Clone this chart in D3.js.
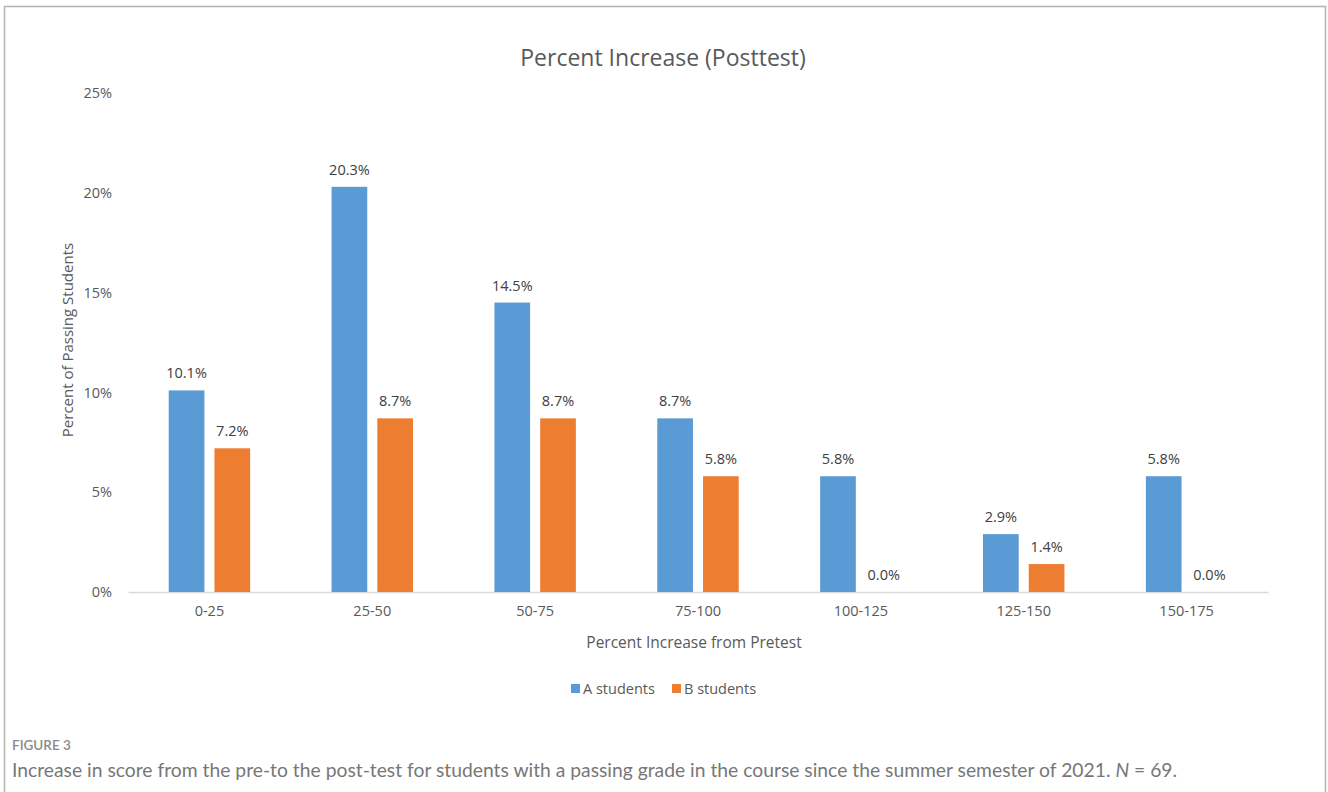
<!DOCTYPE html>
<html><head><meta charset="utf-8">
<script src="https://cdn.jsdelivr.net/npm/d3@7"></script>
<style>
body{margin:0;background:#fff;}
svg{display:block;}
</style></head>
<body>
<svg id="c" width="1328" height="792"></svg>
<script>
const categories = ["0-25","25-50","50-75","75-100","100-125","125-150","150-175"];
const seriesNames = ["A students","B students"];
const aStudents = [10.1,20.3,14.5,8.7,5.8,2.9,5.8];
const bStudents = [7.2,8.7,8.7,5.8,0.0,1.4,0.0];
const yTicks = [0,5,10,15,20,25];
const colors = ["#5B9BD5","#ED7D31"];

(function(){
const svg = d3.select("#c");
const font = "'Open Sans', 'Noto Sans', sans-serif";

// frame
svg.append("rect").attr("x",4.5).attr("y",6.5).attr("width",1321).attr("height",800)
  .attr("fill","none").attr("stroke","#b3b3b3").attr("stroke-width",1.5);

const pLeft = 128, pRight = 1268, pTop = 93, pBottom = 592;
const x = d3.scaleBand().domain(categories).range([pLeft,pRight]).paddingInner(0.5).paddingOuter(0.25);
const xs = d3.scaleBand().domain(seriesNames).range([0,x.bandwidth()]).paddingInner(0.22);
const y = d3.scaleLinear().domain([0,25]).range([pBottom,pTop]);

// title
svg.append("text").attr("x",663).attr("y",66).attr("text-anchor","middle")
  .attr("font-family",font).attr("font-size",23).attr("fill","#595959").text("Percent Increase (Posttest)");

// y axis
const yAxis = d3.axisLeft(y).tickValues(yTicks).tickFormat(d=>d+"%").tickSize(0).tickPadding(16);
const gy = svg.append("g").attr("transform",`translate(${pLeft},0)`).call(yAxis);
gy.select(".domain").remove();
gy.selectAll("text").attr("font-family",font).attr("font-size",14.5).attr("fill","#595959").attr("x",-16);

// x axis
const xAxis = d3.axisBottom(x).tickSize(0).tickPadding(14);
const gx = svg.append("g").attr("transform",`translate(0,${pBottom})`).call(xAxis);
gx.select(".domain").attr("stroke","#d9d9d9").attr("stroke-width",1.5);
gx.selectAll("text").attr("font-family",font).attr("font-size",14.5).attr("fill","#595959");

// bars
const data = categories.map((c,i)=>({c, vals:[aStudents[i], bStudents[i]]}));
const groups = svg.append("g").selectAll("g").data(data).join("g")
  .attr("transform",d=>`translate(${x(d.c)},0)`);
groups.selectAll("rect").data(d=>d.vals.map((v,j)=>({v,s:seriesNames[j],j}))).join("rect")
  .attr("x",d=>xs(d.s)).attr("width",xs.bandwidth())
  .attr("y",d=>y(d.v)).attr("height",d=>y(0)-y(d.v)).attr("fill",d=>colors[d.j]);
groups.selectAll("text").data(d=>d.vals.map((v,j)=>({v,s:seriesNames[j],j}))).join("text")
  .attr("x",d=>xs(d.s)+xs.bandwidth()/2).attr("y",d=>y(d.v)-12)
  .attr("text-anchor","middle").attr("font-family",font).attr("font-size",14.5).attr("fill","#404040")
  .text(d=>d.v.toFixed(1)+"%");

// axis titles
svg.append("text").attr("transform","translate(73,340) rotate(-90)").attr("text-anchor","middle")
  .attr("font-family",font).attr("font-size",15).attr("fill","#595959").text("Percent of Passing Students");
svg.append("text").attr("x",694).attr("y",648).attr("text-anchor","middle")
  .attr("font-family",font).attr("font-size",15.5).attr("fill","#595959").text("Percent Increase from Pretest");

// legend
const legX = [571, 672];
const lg = svg.append("g").selectAll("g").data(seriesNames).join("g")
  .attr("transform",(d,i)=>`translate(${legX[i]},684)`);
lg.append("rect").attr("x",0).attr("y",0).attr("width",9).attr("height",9).attr("fill",(d,i)=>colors[i]);
lg.append("text").attr("x",12).attr("y",10).attr("font-family",font).attr("font-size",14.5).attr("fill","#595959").text(d=>d);

// caption
svg.append("text").attr("x",12).attr("y",750).attr("font-family","Lato, 'Open Sans', sans-serif")
  .attr("font-size",13.5).attr("font-weight",600).attr("fill","#8a8a8a").text("FIGURE 3");
const cap = svg.append("text").attr("x",12).attr("y",777).attr("font-family","Lato, 'Open Sans', sans-serif")
  .attr("font-size",19.3).attr("fill","#777");
cap.append("tspan").text("Increase in score from the pre-to the post-test for students with a passing grade in the course since the summer semester of 2021. ");
cap.append("tspan").attr("font-style","italic").text("N");
cap.append("tspan").text(" = 69.");
})();
</script>
</body></html>
